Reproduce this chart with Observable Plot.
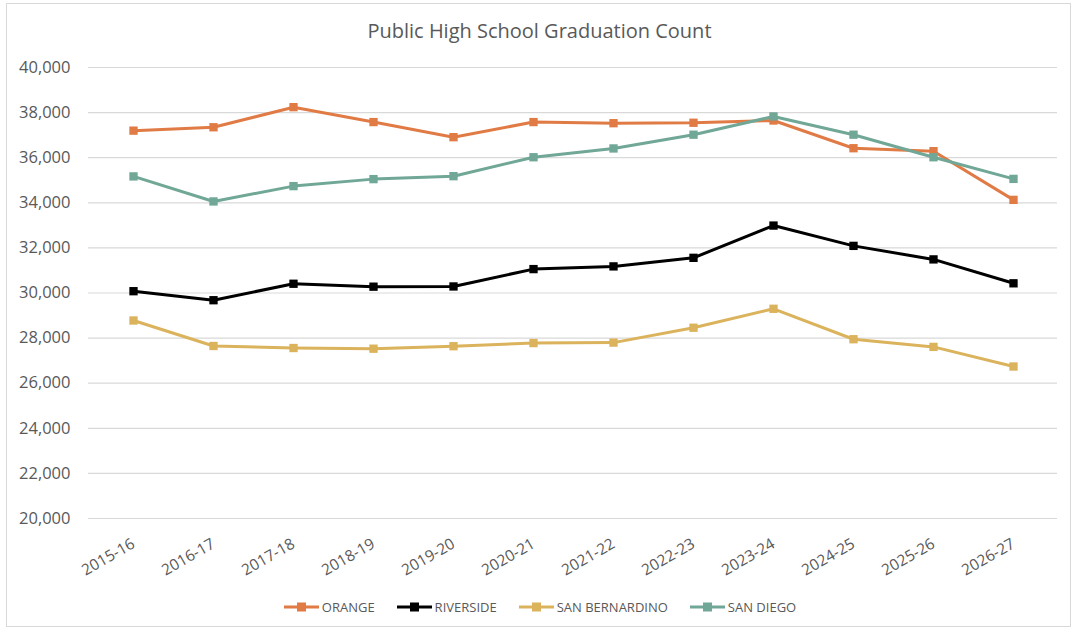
<!DOCTYPE html>
<html>
<head>
<meta charset="utf-8">
<script src="https://cdn.jsdelivr.net/npm/d3@7"></script>
<script src="https://cdn.jsdelivr.net/npm/@observablehq/plot@0.6"></script>
<style>
  html, body { margin: 0; padding: 0; background: #fff; }
  body { width: 1079px; height: 634px; position: relative; overflow: hidden; font-family: "Open Sans", sans-serif; }
  #frame { position: absolute; left: 6px; top: 3px; width: 1065px; height: 624px; border: 1px solid #d9d9d9; box-sizing: border-box; }
  #title { position: absolute; left: 0; top: 17px; width: 1079px; text-align: center; font-size: 20px; color: #595959; }
  #chart { position: absolute; left: 0; top: 45px; }
  #legend { position: absolute; left: 0; top: 598px; width: 1079px; display: flex; justify-content: center; gap: 21px; font-size: 13px; color: #595959; }
  #legend .item { display: flex; align-items: center; gap: 2px; }
</style>
</head>
<body>
<div id="frame"></div>
<div id="title">Public High School Graduation Count</div>
<div id="chart"></div>
<div id="legend"></div>
<script>
const years = ["2015-16","2016-17","2017-18","2018-19","2019-20","2020-21","2021-22","2022-23","2023-24","2024-25","2025-26","2026-27"];
const seriesNames = ["ORANGE","RIVERSIDE","SAN BERNARDINO","SAN DIEGO"];
const seriesColors = ["#e07b45","#000000","#dbb35c","#70a797"];
const orange = [37200,37350,38240,37580,36910,37580,37530,37550,37650,36420,36290,34130];
const riverside = [30080,29680,30410,30280,30290,31060,31180,31560,32990,32090,31490,30430];
const sanBernardino = [28780,27650,27560,27530,27640,27780,27800,28460,29300,27950,27610,26740];
const sanDiego = [35170,34060,34740,35050,35180,36020,36410,37020,37830,37020,36020,35060];
const yTicks = [20000,22000,24000,26000,28000,30000,32000,34000,36000,38000,40000];

const values = [orange, riverside, sanBernardino, sanDiego];
const data = [];
seriesNames.forEach((s, i) => years.forEach((y, j) => data.push({series: s, year: y, value: values[i][j]})));

const plot = Plot.plot({
  width: 1079,
  height: 545,
  marginTop: 22,
  marginBottom: 72,
  marginLeft: 88,
  marginRight: 22,
  style: { fontFamily: "Open Sans, sans-serif", fontSize: "16px", color: "#595959", background: "transparent" },
  x: { type: "point", domain: years, padding: 0.5, label: null },
  y: { domain: [20000, 40000], label: null },
  color: { domain: seriesNames, range: seriesColors },
  marks: [
    Plot.gridY(yTicks, { stroke: "#d9d9d9", strokeOpacity: 1, strokeWidth: 1.2 }),
    Plot.axisY(yTicks, { tickSize: 0, tickPadding: 18, tickFormat: d3.format(","), fontSize: 16.5, fill: "#595959", label: null }),
    Plot.axisX({ tickSize: 0, tickPadding: 24, tickRotate: -30, fontSize: 15.5, fill: "#595959", label: null }),
    Plot.line(data, { x: "year", y: "value", z: "series", stroke: "series", strokeWidth: 3, strokeLinejoin: "round" }),
    Plot.dot(data, { x: "year", y: "value", fill: "series", symbol: "square", r: 4.7 })
  ]
});
document.getElementById("chart").appendChild(plot);

const legend = document.getElementById("legend");
seriesNames.forEach((s, i) => {
  const item = document.createElement("div");
  item.className = "item";
  item.innerHTML = `<svg width="37" height="12"><line x1="1" x2="36" y1="6" y2="6" stroke="${seriesColors[i]}" stroke-width="3"/><rect x="14" y="1.5" width="9" height="9" fill="${seriesColors[i]}"/></svg><span>${s}</span>`;
  legend.appendChild(item);
});
</script>
</body>
</html>
